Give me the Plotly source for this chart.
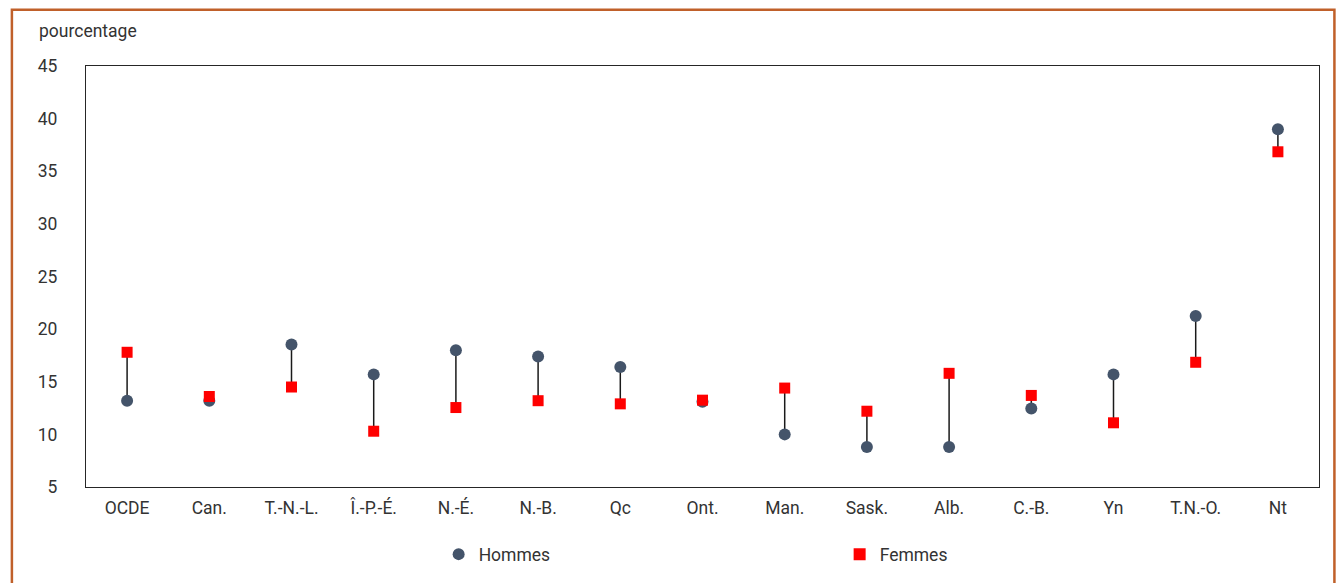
import plotly.graph_objects as go

categories = ["OCDE", "Can.", "T.-N.-L.", "Î.-P.-É.", "N.-É.", "N.-B.", "Qc", "Ont.",
              "Man.", "Sask.", "Alb.", "C.-B.", "Yn", "T.N.-O.", "Nt"]
hommes = [13.2, 13.2, 18.55, 15.7, 18.0, 17.4, 16.4, 13.1, 10.0, 8.8, 8.8, 12.45, 15.7, 21.25, 39.0]
femmes = [17.8, 13.6, 14.5, 10.3, 12.55, 13.2, 12.9, 13.25, 14.4, 12.2, 15.8, 13.7, 11.1, 16.85, 36.85]
y_ticks = [5, 10, 15, 20, 25, 30, 35, 40, 45]

FONT = "Roboto, Arial, sans-serif"
TXT = "#333333"

# connecting segments
lx, ly = [], []
for c, h, f in zip(categories, hommes, femmes):
    lx += [c, c, None]
    ly += [h, f, None]

fig = go.Figure()
fig.add_trace(go.Scatter(x=lx, y=ly, mode="lines", line=dict(color="#1a1a1a", width=1.5),
                         showlegend=False, hoverinfo="skip"))
fig.add_trace(go.Scatter(x=categories, y=hommes, mode="markers", name="Hommes",
                         marker=dict(symbol="circle", size=12, color="#44546a")))
fig.add_trace(go.Scatter(x=categories, y=femmes, mode="markers", name="Femmes",
                         marker=dict(symbol="square", size=11, color="#ff0000")))

fig.update_layout(
    width=1344, height=583,
    margin=dict(l=78, r=33, t=58, b=104),
    paper_bgcolor="white", plot_bgcolor="white",
    font=dict(family=FONT, size=17.5, color=TXT),
    showlegend=True,
    legend=dict(orientation="h", x=0.286, xanchor="left", y=-0.117, yanchor="top",
                entrywidth=356, entrywidthmode="pixels",
                font=dict(family=FONT, size=17.5, color=TXT), itemsizing="constant"),
    xaxis=dict(type="category", categoryorder="array", categoryarray=categories,
               range=[-0.5, len(categories) - 0.5],
               showgrid=False, zeroline=False, showline=True, mirror=True,
               linecolor="#262626", linewidth=1.3, ticks="", ticklabelstandoff=5,
               tickfont=dict(family=FONT, size=17.5, color=TXT)),
    yaxis=dict(range=[5, 45], tickvals=y_ticks, showgrid=False, zeroline=False,
               showline=True, mirror=True, linecolor="#262626", linewidth=1.3,
               ticks="", ticklabelstandoff=24,
               tickfont=dict(family=FONT, size=17.5, color=TXT)),
    annotations=[dict(text="pourcentage", xref="paper", yref="paper",
                      x=-0.0398, y=1.083, xanchor="left", yanchor="middle",
                      showarrow=False, font=dict(family=FONT, size=17.5, color=TXT))],
    shapes=[dict(type="rect", xref="paper", yref="paper",
                 x0=-0.0601, x1=1.0125, y0=-0.4, y1=1.1335,
                 line=dict(color="#c0602a", width=2.5), layer="below")],
)

fig.write_html("out.html")
